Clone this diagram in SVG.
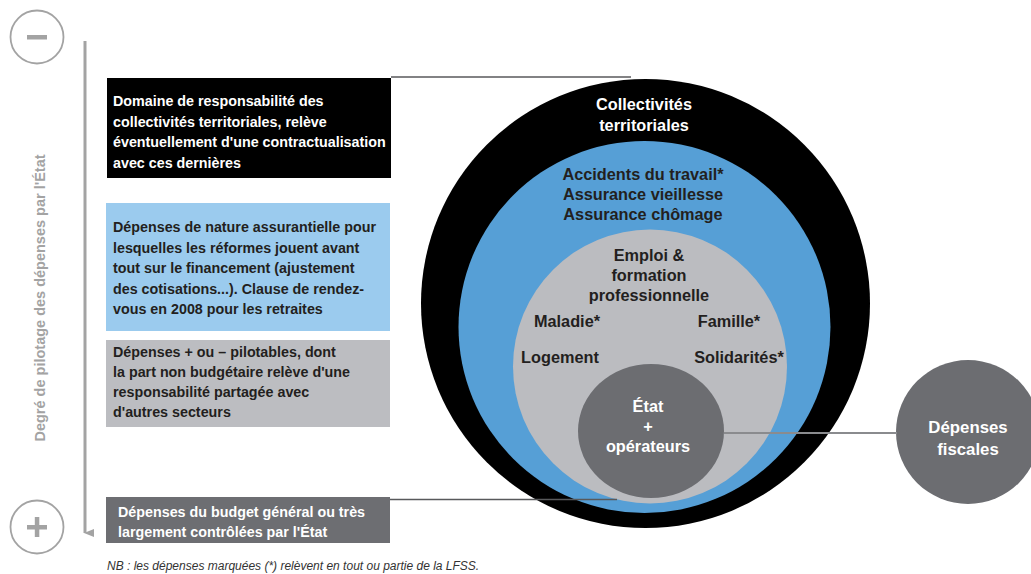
<svg xmlns="http://www.w3.org/2000/svg" width="1031" height="574" viewBox="0 0 1031 574">
  <style>
    .t { font-family: "Liberation Sans", Arial, sans-serif; font-weight: bold; }
    .box { font-size: 14.3px; }
    .ring { font-size: 16.3px; text-anchor: middle; }
    .big { font-size: 16.8px; }
    .dark { fill: #231f20; }
    .white { fill: #ffffff; }
    .axis { stroke: #a3a3a3; fill: none; }
    .link { stroke: #58595b; stroke-width: 1.6; fill: none; }
  </style>
  <defs>
    <marker id="arrowhead" viewBox="0 0 10 10" refX="5" refY="9" markerWidth="10" markerHeight="10" markerUnits="userSpaceOnUse" orient="auto">
      <path d="M1,0 L9,0 L5,10 Z" fill="#a3a3a3"/>
    </marker>
  </defs>

  <rect width="1031" height="574" fill="#ffffff"/>

  <!-- scale: minus / plus markers and the vertical axis -->
  <g id="scale">
    <circle cx="37" cy="37" r="26.5" class="axis" stroke-width="1.8"/>
    <rect x="27" y="35" width="20" height="4.5" fill="#a3a3a3"/>
    <circle cx="37" cy="527" r="26.5" class="axis" stroke-width="1.8"/>
    <rect x="27" y="525" width="20" height="4.5" fill="#a3a3a3"/>
    <rect x="34.8" y="517" width="4.5" height="20" fill="#a3a3a3"/>
    <line x1="85" y1="41" x2="85" y2="533" class="axis" stroke-width="3" marker-end="url(#arrowhead)"/>
    <text class="t" x="0" y="0" font-size="14.5" fill="#a3a3a3" text-anchor="middle" transform="translate(45,298) rotate(-90)">Degré de pilotage des dépenses par l'État</text>
  </g>

  <!-- concentric spending rings -->
  <g id="ring-collectivites">
    <circle cx="645.5" cy="303.5" r="224.5" fill="#000000"/>
    <text class="t ring white" x="644" y="110">Collectivités</text>
    <text class="t ring white" x="644" y="130.5">territoriales</text>
  </g>
  <g id="ring-assurance">
    <circle cx="644.5" cy="327" r="186" fill="#569fd6"/>
    <text class="t ring dark" x="643" y="179.5">Accidents du travail*</text>
    <text class="t ring dark" x="643" y="199.5">Assurance vieillesse</text>
    <text class="t ring dark" x="643" y="219.5">Assurance chômage</text>
  </g>
  <g id="ring-partage">
    <circle cx="650" cy="366.5" r="137" fill="#bbbcc0"/>
    <text class="t ring dark" x="649" y="260.5">Emploi &amp;</text>
    <text class="t ring dark" x="649" y="280.5">formation</text>
    <text class="t ring dark" x="649" y="300.5">professionnelle</text>
    <text class="t ring dark" x="567" y="326.5">Maladie*</text>
    <text class="t ring dark" x="729" y="326.5">Famille*</text>
    <text class="t ring dark" x="560" y="362.5">Logement</text>
    <text class="t ring dark" x="739" y="362.5">Solidarités*</text>
  </g>
  <g id="ring-etat">
    <ellipse cx="651" cy="431" rx="73" ry="67" fill="#6c6d71"/>
    <text class="t ring white" x="648" y="412">État</text>
    <text class="t ring white" x="648" y="432">+</text>
    <text class="t ring white" x="648" y="452">opérateurs</text>
  </g>
  <g id="depenses-fiscales">
    <circle cx="968" cy="432" r="72" fill="#6c6d71"/>
    <text class="t ring big white" x="968" y="433">Dépenses</text>
    <text class="t ring big white" x="968" y="455">fiscales</text>
  </g>

  <!-- legend boxes -->
  <g id="box-collectivites">
    <rect x="107" y="78" width="284" height="100" fill="#000000"/>
    <text class="t box white" x="113" y="106">Domaine de responsabilité des</text>
    <text class="t box white" x="113" y="126.5">collectivités territoriales, relève</text>
    <text class="t box white" x="113" y="147">éventuellement d'une contractualisation</text>
    <text class="t box white" x="113" y="167.5">avec ces dernières</text>
  </g>
  <g id="box-assurance">
    <rect x="106" y="203" width="284" height="128" fill="#9bcbee"/>
    <text class="t box dark" x="113" y="232">Dépenses de nature assurantielle pour</text>
    <text class="t box dark" x="113" y="252.5">lesquelles les réformes jouent avant</text>
    <text class="t box dark" x="113" y="273">tout sur le financement (ajustement</text>
    <text class="t box dark" x="113" y="293.5">des cotisations...). Clause de rendez-</text>
    <text class="t box dark" x="113" y="314">vous en 2008 pour les retraites</text>
  </g>
  <g id="box-partage">
    <rect x="106" y="340" width="284" height="87" fill="#bcbdc1"/>
    <text class="t box dark" x="113" y="357">Dépenses + ou – pilotables, dont</text>
    <text class="t box dark" x="113" y="377">la part non budgétaire relève d'une</text>
    <text class="t box dark" x="113" y="397">responsabilité partagée avec</text>
    <text class="t box dark" x="113" y="417">d'autres secteurs</text>
  </g>
  <g id="box-etat">
    <rect x="106" y="497" width="284" height="46" fill="#6d6e72"/>
    <text class="t box white" x="118" y="517">Dépenses du budget général ou très</text>
    <text class="t box white" x="118" y="537">largement contrôlées par l'État</text>
  </g>

  <!-- connectors between boxes and rings -->
  <g id="connectors">
    <line x1="391" y1="77" x2="631" y2="77" class="link"/>
    <line x1="390" y1="499.5" x2="617" y2="499.5" class="link"/>
    <line x1="724" y1="433" x2="897" y2="433" stroke="#8a8b8e" stroke-width="2"/>
  </g>

  <text x="107" y="570" font-family="Liberation Sans, Arial, sans-serif" font-style="italic" font-size="12" fill="#333333">NB : les dépenses marquées (*) relèvent en tout ou partie de la LFSS.</text>
</svg>
